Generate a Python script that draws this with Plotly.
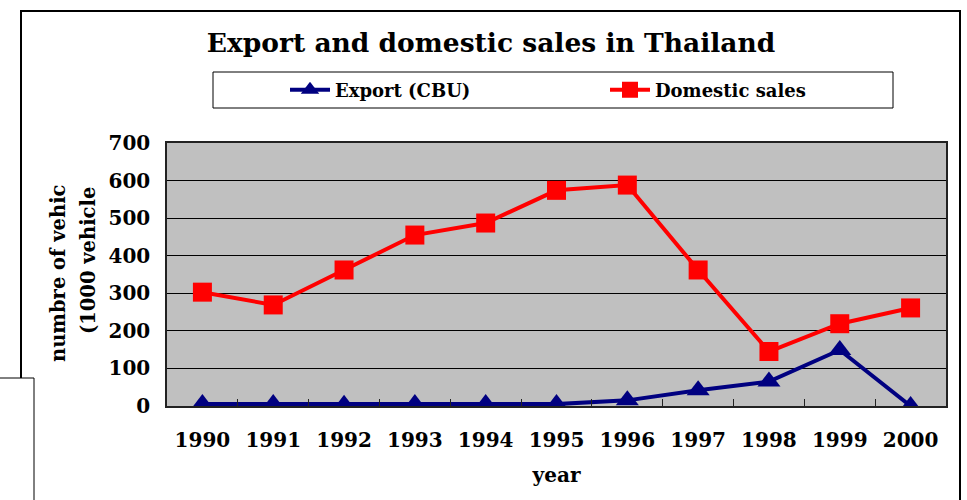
import plotly.graph_objects as go

years = ["1990", "1991", "1992", "1993", "1994", "1995", "1996", "1997", "1998", "1999", "2000"]
export_cbu = [5, 5, 3, 5, 5, 5, 15, 42, 65, 149, 0]
domestic_sales = [303, 269, 362, 455, 487, 574, 588, 362, 145, 219, 261]
y_ticks = [0, 100, 200, 300, 400, 500, 600, 700]

W, H = 967, 500
L, R, T, B = 167, 946, 143, 406  # plot area in pixels


def px(x):
    return (x - L) / (R - L)


def py(y):
    return (B - y) / (B - T)


FONT = "DejaVu Serif"

fig = go.Figure()
fig.add_trace(go.Scatter(
    x=years, y=export_cbu, name="<b>Export (CBU)</b>", mode="lines+markers",
    line=dict(color="#000080", width=4),
    marker=dict(symbol="triangle-up", size=20, color="#000080"),
))
fig.add_trace(go.Scatter(
    x=years, y=domestic_sales, name="<b>Domestic sales</b>", mode="lines+markers",
    line=dict(color="#FF0000", width=4),
    marker=dict(symbol="square", size=19, color="#FF0000"),
))

shapes = [
    # outer chart frame (open at the bottom)
    dict(type="rect", xref="paper", yref="paper", x0=px(21), x1=px(960), y0=py(11), y1=py(530),
         line=dict(color="black", width=2), fillcolor="rgba(0,0,0,0)", layer="above"),
    # small box overlapping lower left
    dict(type="rect", xref="paper", yref="paper", x0=px(-10), x1=px(34), y0=py(378), y1=py(530),
         line=dict(color="black", width=1), fillcolor="white", layer="above"),
    # legend box
    dict(type="rect", xref="paper", yref="paper", x0=px(213), x1=px(893), y0=py(108), y1=py(72),
         line=dict(color="black", width=1)),
]

fig.update_layout(
    width=W, height=H,
    margin=dict(l=L, r=W - R, t=T, b=H - B, autoexpand=False),
    paper_bgcolor="white",
    plot_bgcolor="#C0C0C0",
    font=dict(family=FONT, color="black"),
    title=dict(text="<b>Export and domestic sales in Thailand</b>",
               x=491 / W, xanchor="center", y=1 - 43 / H, yanchor="middle",
               font=dict(size=26.5, family=FONT, color="black")),
    showlegend=True,
    legend=dict(orientation="h", x=px(285), xanchor="left", y=py(90), yanchor="middle",
                font=dict(size=18, family=FONT, color="black"),
                entrywidth=265, entrywidthmode="pixels",
                bgcolor="rgba(0,0,0,0)", borderwidth=0, itemwidth=40),
    shapes=shapes,
    xaxis=dict(type="category", range=[-0.5, len(years) - 0.5], autorange=False,
               showgrid=False, showline=True, mirror=True,
               linecolor="#222", linewidth=1.5,
               ticks="inside", tickson="boundaries", ticklen=7, tickcolor="#222",
               tickfont=dict(size=20, family=FONT, color="black"),
               ticklabelstandoff=15,
               title=dict(text="<b>year</b>", font=dict(size=20, family=FONT), standoff=17)),
    yaxis=dict(range=[0, 700], tickvals=y_ticks, ticktext=[f"<b>{v}</b>" for v in y_ticks],
               showgrid=True, gridcolor="black", gridwidth=1,
               showline=True, mirror=True, linecolor="#222", linewidth=1.5,
               ticks="", zeroline=False, ticklabelstandoff=11,
               tickfont=dict(size=20, family=FONT, color="black")),
    annotations=[
        dict(text="<b>numbre of vehic</b>", textangle=-90, xref="paper", yref="paper",
             x=px(58), y=py(274), xanchor="center", yanchor="middle", showarrow=False,
             font=dict(size=19.5, family=FONT, color="black")),
        dict(text="<b>(1000 vehicle</b>", textangle=-90, xref="paper", yref="paper",
             x=px(88), y=py(261), xanchor="center", yanchor="middle", showarrow=False,
             font=dict(size=19.5, family=FONT, color="black")),
    ],
)
fig.update_xaxes(ticktext=[f"<b>{y}</b>" for y in years], tickvals=years)

fig.write_html("out.html", config={"displayModeBar": False},
               post_script="document.body.style.margin='0';document.body.style.overflow='hidden';")
